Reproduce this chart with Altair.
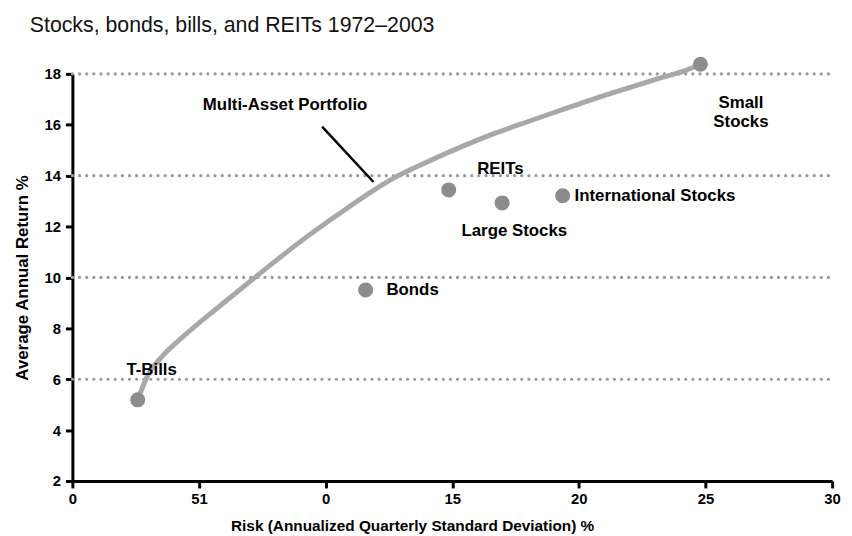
import altair as alt
import pandas as pd

# ---- data ----
asset_names = ["T-Bills", "Bonds", "REITs", "Large Stocks", "International Stocks", "Small Stocks"]
asset_risk = [2.58, 11.58, 14.86, 16.97, 19.36, 24.80]
asset_return = [5.19, 9.51, 13.44, 12.93, 13.21, 18.38]

curve_risk = [2.58, 2.82, 3.00, 3.50, 4.46, 5.75, 7.31, 8.90, 10.56, 11.89, 12.79, 14.09,
              15.40, 16.70, 18.00, 19.31, 20.61, 21.90, 23.22, 24.25, 24.80]
curve_return = [5.19, 5.80, 6.20, 6.85, 7.75, 8.82, 10.08, 11.33, 12.52, 13.42, 13.96, 14.58,
                15.15, 15.67, 16.13, 16.58, 17.02, 17.43, 17.84, 18.15, 18.38]

label_text = ["T-Bills", "Bonds", "REITs", "Large Stocks", "International Stocks",
              "Multi-Asset Portfolio"]
label_x = [3.13, 12.40, 16.90, 17.45, 19.83, 8.40]
label_y = [6.36, 9.51, 14.26, 11.84, 13.20, 16.79]
label_align = ["center", "left", "center", "center", "left", "center"]

small_label_lines = ["Small", "Stocks"]
small_label_x = [26.40, 26.40]
small_label_y = [16.86, 16.12]

leader_x = [9.86, 11.89]
leader_y = [15.93, 13.75]

grid_values = [6, 10, 14, 18]
x_tick_values = [0, 5, 10, 15, 20, 25, 30]
x_tick_labels = ["0", "51", "0", "15", "20", "25", "30"]
y_tick_values = [2, 4, 6, 8, 10, 12, 14, 16, 18]

FONT = "Liberation Sans"

assets = pd.DataFrame({"name": asset_names, "risk": asset_risk, "ret": asset_return})
curve = pd.DataFrame({"risk": curve_risk, "ret": curve_return, "order": list(range(len(curve_risk)))})
labels = pd.DataFrame({"text": label_text, "risk": label_x, "ret": label_y, "align": label_align})
small = pd.DataFrame({"text": small_label_lines, "risk": small_label_x, "ret": small_label_y})
leader = pd.DataFrame({"risk": leader_x, "ret": leader_y, "order": [0, 1]})
grid = pd.DataFrame({"ret": grid_values, "x0": [0] * 4, "x1": [30] * 4})

label_map = "{" + ",".join(f"'{v}':'{l}'" for v, l in zip(x_tick_values, x_tick_labels)) + "}"

xscale = alt.Scale(domain=[0, 30], nice=False, zero=False)
yscale = alt.Scale(domain=[2, 18], nice=False, zero=False)

xaxis = alt.Axis(values=x_tick_values, labelExpr=f"{label_map}[datum.value]",
                 title="Risk (Annualized Quarterly Standard Deviation) %",
                 grid=False, domainColor="black", domainWidth=3, tickColor="black",
                 tickWidth=3, tickSize=7, labelFont=FONT, labelFontWeight="bold",
                 labelFontSize=15, labelColor="black", labelPadding=4,
                 titleFont=FONT, titleFontWeight="bold", titleFontSize=15.5,
                 titleColor="black", titlePadding=12, titleX=343, titleAlign="center",
                 labelFlush=False)
yaxis = alt.Axis(values=y_tick_values, title="Average Annual Return %", grid=False,
                 domainColor="black", domainWidth=3, tickColor="black", tickWidth=3,
                 tickSize=7, labelFont=FONT, labelFontWeight="bold", labelFontSize=15,
                 labelColor="black", labelPadding=5, titleFont=FONT,
                 titleFontWeight="bold", titleFontSize=17, titleColor="black",
                 titlePadding=13)

gridlines = alt.Chart(grid).mark_rule(color="#9a9a9a", strokeWidth=3.2,
                                      strokeDash=[0.1, 7.1], strokeCap="round").encode(
    x=alt.X("x0:Q", scale=xscale, axis=xaxis),
    x2="x1:Q",
    y=alt.Y("ret:Q", scale=yscale, axis=yaxis),
)

line = alt.Chart(curve).mark_line(color="#a8a8a8", strokeWidth=5, interpolate="monotone",
                                  clip=False).encode(
    x=alt.X("risk:Q", scale=xscale),
    y=alt.Y("ret:Q", scale=yscale),
    order="order:Q",
)

lead = alt.Chart(leader).mark_line(color="black", strokeWidth=2.5).encode(
    x=alt.X("risk:Q", scale=xscale),
    y=alt.Y("ret:Q", scale=yscale),
    order="order:Q",
)

points = alt.Chart(assets).mark_circle(size=230, color="#8c8c8c", opacity=1).encode(
    x=alt.X("risk:Q", scale=xscale),
    y=alt.Y("ret:Q", scale=yscale),
)

text_center = alt.Chart(labels[labels["align"] == "center"]).mark_text(
    font=FONT, fontWeight="bold", fontSize=17, color="black", align="center",
    baseline="middle").encode(
    x=alt.X("risk:Q", scale=xscale), y=alt.Y("ret:Q", scale=yscale), text="text:N")

text_left = alt.Chart(labels[labels["align"] == "left"]).mark_text(
    font=FONT, fontWeight="bold", fontSize=17, color="black", align="left",
    baseline="middle").encode(
    x=alt.X("risk:Q", scale=xscale), y=alt.Y("ret:Q", scale=yscale), text="text:N")

text_small = alt.Chart(small).mark_text(
    font=FONT, fontWeight="bold", fontSize=17, color="black", align="center",
    baseline="middle").encode(
    x=alt.X("risk:Q", scale=xscale), y=alt.Y("ret:Q", scale=yscale), text="text:N")

chart = alt.layer(gridlines, line, lead, points, text_center, text_left, text_small).properties(
    width=767, height=411,
    autosize=alt.AutoSizeParams(type="none"),
    padding={"left": 65, "top": 64, "right": 12, "bottom": 52},
    title=alt.TitleParams("Stocks, bonds, bills, and REITs 1972\u20132003", anchor="start",
                          frame="group", dx=-43, offset=18, font=FONT, fontSize=21.5,
                          fontWeight="normal", color="#111111"),
).configure_view(stroke=None)

chart.save("out.html", embed_options={"renderer": "svg", "actions": False})
